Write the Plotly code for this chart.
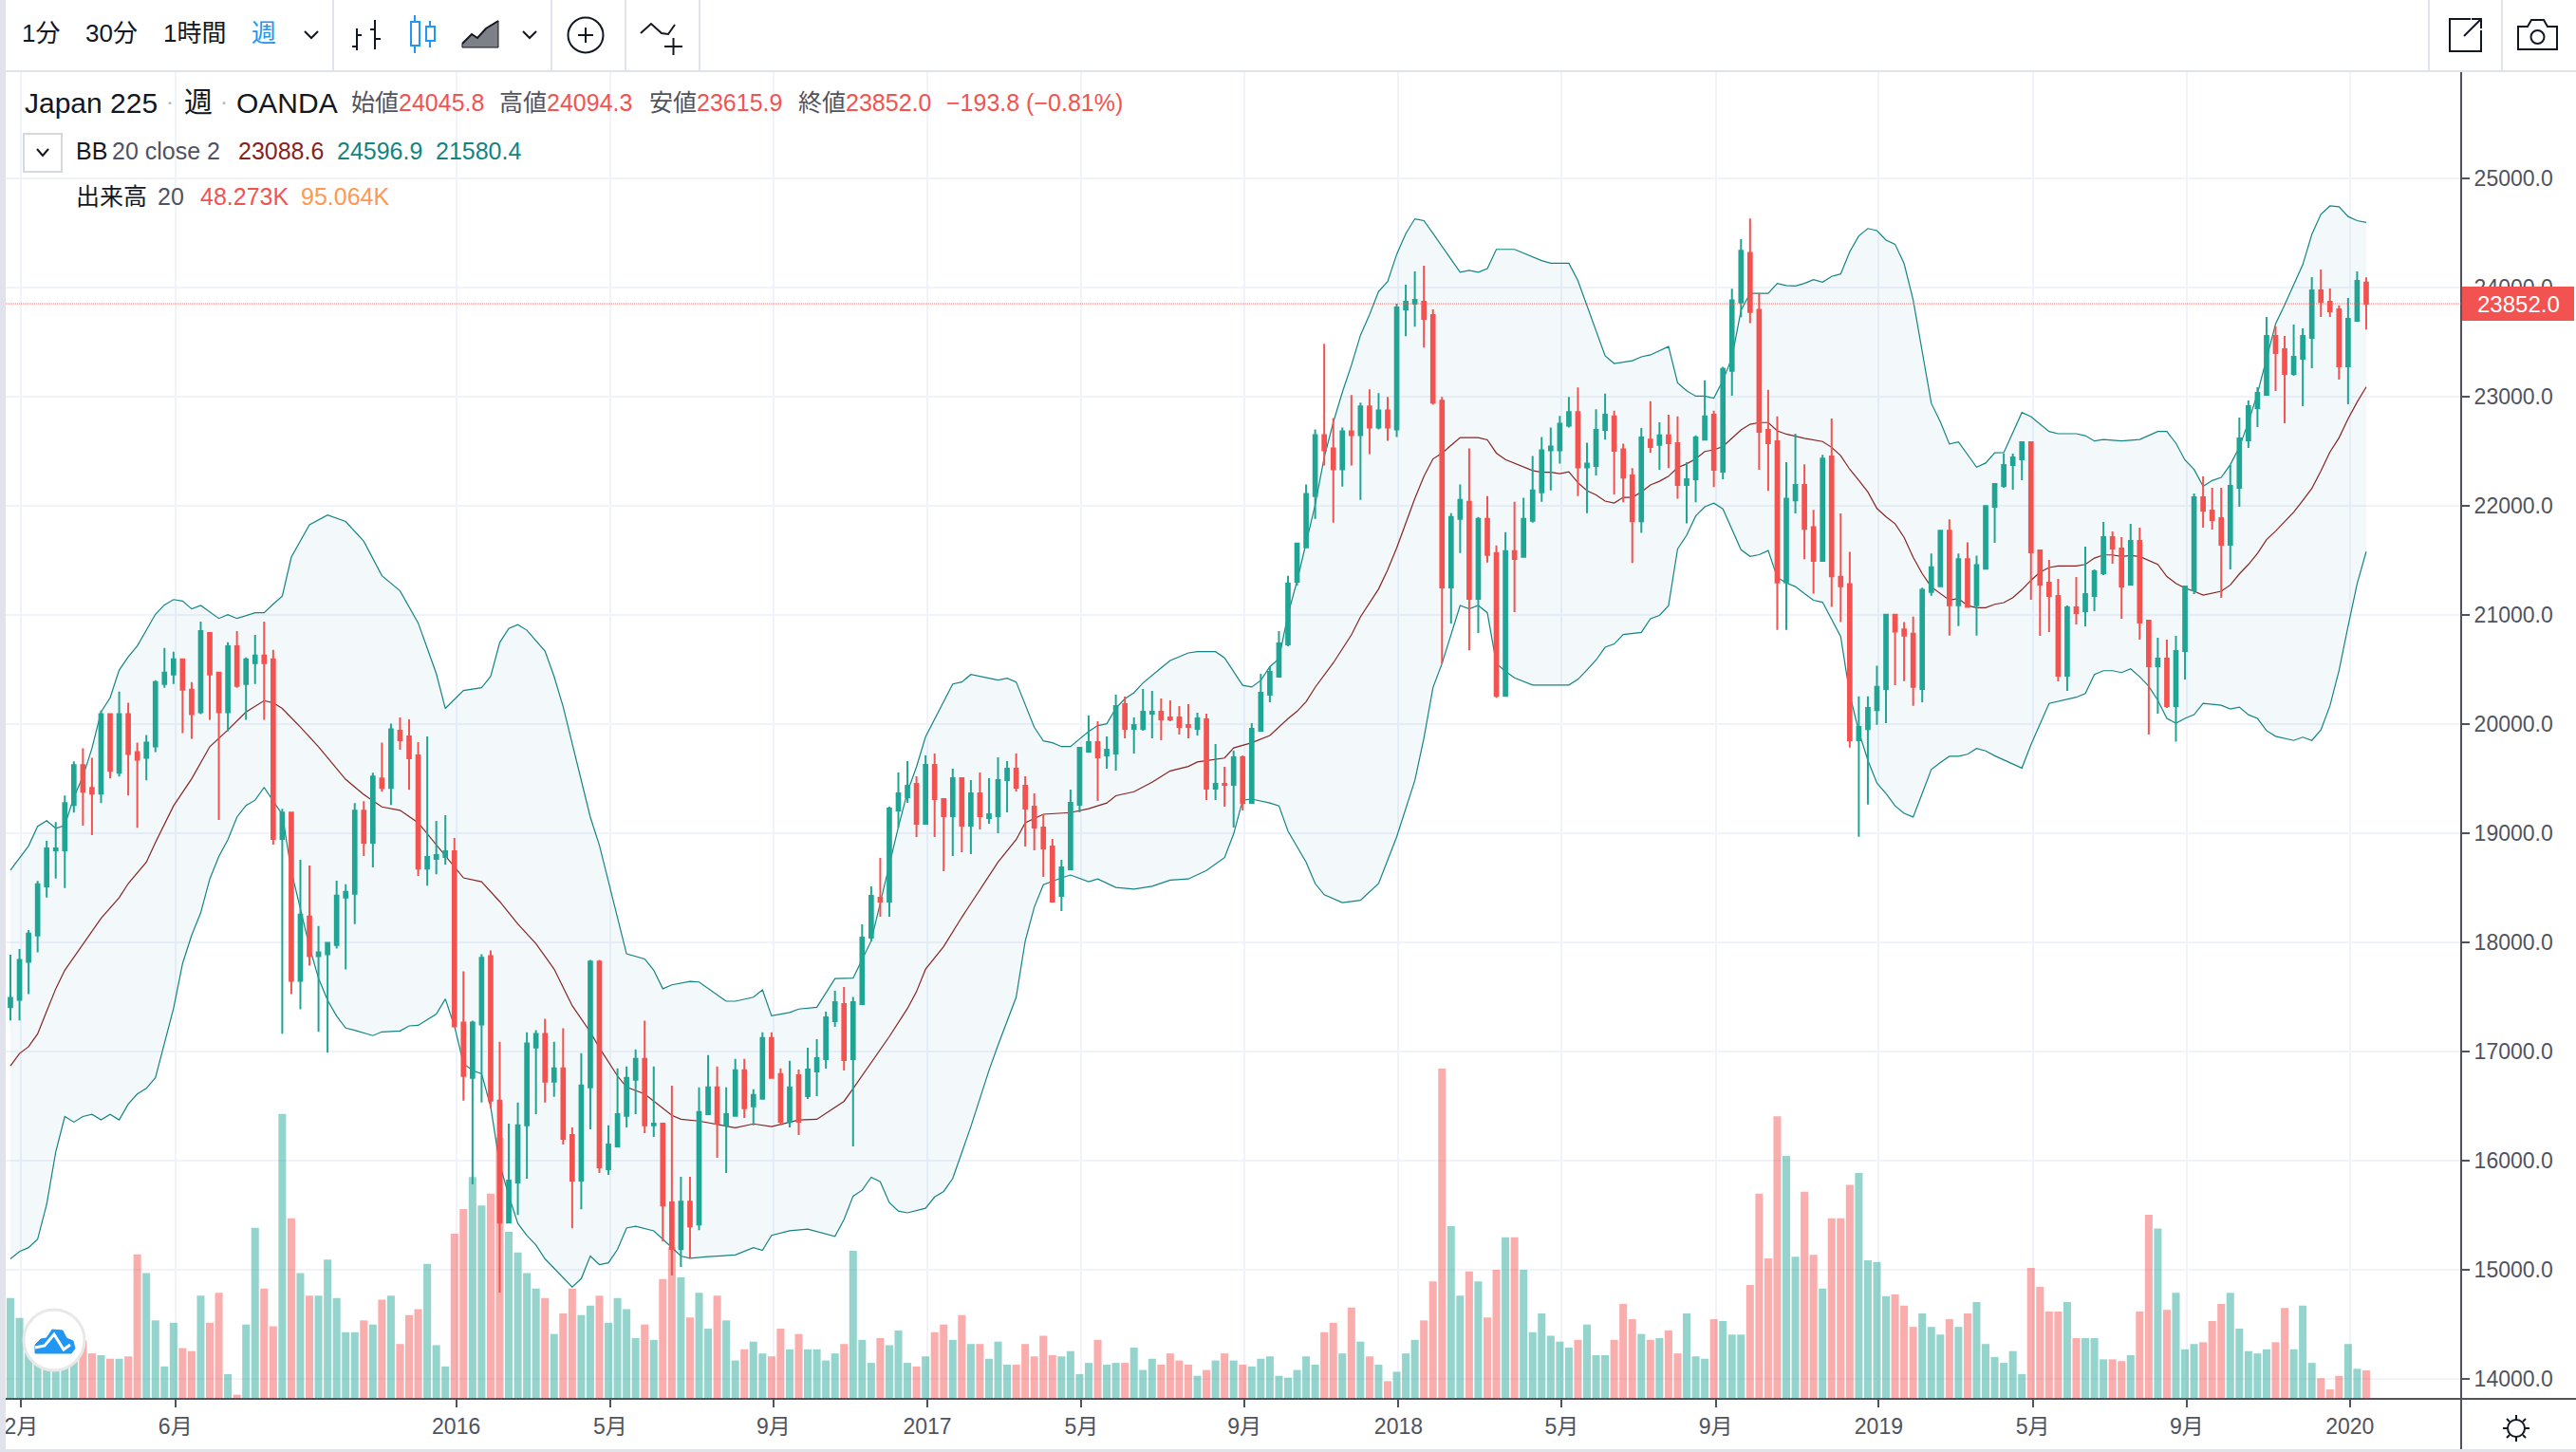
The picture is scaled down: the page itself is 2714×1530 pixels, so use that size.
import plotly.graph_objects as go

W, H = 2714, 1530
LEFT, RIGHT, TOP, BOTTOM = 6, 2593, 76, 1474

highs = [17888,17940,18113,18563,18930,19103,19346,19658,19779,19692,20125,20091,20298,20195,19831,19900,20402,20697,20662,20593,20385,20939,20835,20472,20749,20853,20610,20818,20939,20680,
19224,19190,18757,18705,18151,17995,18566,18532,19276,19294,19554,19831,20004,20061,20043,19835,19887,19113,19166,18956,
17735,17282,17892,17927,17090,16340,16532,17177,17195,17299,17090,17212,16305,16985,17840,17840,16323,16846,16863,17020,17282,16863,16340,16687,15852,15852,16671,16968,16863,16671,16933,16933,16654,17177,17177,16846,16916,
16835,17035,17113,17365,17556,17591,17500,18165,18513,18774,19243,19556,19661,19522,19713,19730,19313,19591,19504,19487,19556,19504,19696,19661,19730,19522,19365,19174,18948,18756,19400,19783,20078,20026,19887,20270,20252,20061,20322,20304,20235,20217,20165,20183,
20104,20096,19817,19609,19757,19713,20009,20461,20530,20852,21358,21654,22195,22701,23485,22805,22718,23015,22945,23067,23032,22997,23852,24026,24148,24201,23799,22997,21933,22195,22526,21898,22090,21637,21759,22038,22073,22456,22631,22718,22823,22997,23084,22578,
22884,23028,22872,22570,22346,22713,22959,22766,22835,22819,22399,22645,23149,22872,23273,23989,24443,24632,23951,23062,22819,22399,22660,22380,21964,22467,22800,21930,21578,20254,20254,20534,21003,21003,20935,20984,21249,21563,21771,21877,21563,21665,21544,21998,
22200,22478,22478,22582,22582,21591,21504,21330,21087,21347,21626,21417,21852,21765,21713,21834,21800,20947,20791,20773,20808,21260,22113,22269,22165,22165,22374,22808,22965,23087,23730,23643,23556,23661,23626,24096,24165,23991,23835,23904,24148,24094.3]

lows = [17284,17284,17527,17908,18410,18584,18497,19190,19069,18982,19276,19502,19519,19346,19051,19484,19744,20333,20368,19917,19865,20091,20039,19121,19935,20333,20039,20368,20039,18895,
17163,17527,17388,17787,17181,16991,17943,17752,18168,18791,18687,19380,19259,19765,19398,18608,18520,18625,18712,17230,
16549,15782,16532,16480,14791,15433,15503,15834,16427,16532,16584,16148,15381,15555,16288,15887,15869,16131,16305,16427,16253,16218,15259,14948,15026,15113,15363,16427,16026,15887,16410,16392,16323,16567,16759,16323,16305,
16235,16565,16591,16843,17226,16826,16130,17434,18008,18235,18235,19052,19278,18965,19087,18965,18652,18791,18826,18809,19035,19087,19000,19191,19383,18878,18843,18600,18374,18287,18669,19191,19748,19296,19591,19574,19870,19730,19939,19870,19852,20026,19904,19870,
19896,19304,19304,19243,19052,19209,19278,19939,20200,20435,20712,21270,21619,21881,22369,21846,22177,22369,22055,22474,22701,22596,22631,23555,23642,23451,22927,20555,20921,21567,20677,20834,21480,20241,20259,21026,21532,21846,22038,22142,22387,22718,22090,21933,
22278,22607,22104,22032,21476,21752,22486,22331,22346,22066,21839,22032,22607,22172,22244,23009,23728,23675,22331,22138,20863,20863,21930,21510,21196,21495,21075,20935,19785,18967,19262,19993,20008,20356,20394,20167,20201,21177,21264,20810,20897,21075,20810,21423,
21661,22165,22148,22235,21139,20808,20843,20391,20304,20913,20895,21034,21365,21469,20965,21278,20773,19904,20095,20147,19840,20408,21191,21800,21782,21156,21417,21991,22530,22722,23017,23052,22756,23191,22913,23261,23730,23730,23156,22930,23696,23615.9]

opens = [17406,17475,17821,18064,18514,18843,18843,19259,19623,19415,19363,20091,19554,20091,19744,19692,19796,20368,20454,20593,20316,20108,20835,20472,20108,20714,20368,20558,20628,20593,
18947,19190,17648,18237,17873,17891,17977,18410,18445,19207,18913,19502,19415,19939,19887,19713,18677,18765,18782,18834,
17265,16759,17247,17875,16549,15433,15799,16323,17038,17160,16724,16846,16235,15817,16671,17823,15921,16131,16410,16741,16933,16323,16340,15617,15189,15625,15416,16427,16671,16323,16410,16828,16497,16567,17125,16794,16357,
16783,16591,16817,16930,17278,17435,16930,17434,18043,18408,18374,19209,19330,19452,19087,19626,19313,19156,19504,19069,19365,19139,19156,19487,19591,19435,19243,19052,18878,18426,18669,19261,19748,19835,19713,19730,20183,19957,19957,20096,20113,20061,20061,19991,
19957,20043,19409,19452,19443,19696,19278,19939,20270,20435,20730,21305,21619,22090,22648,22526,22334,22683,22648,22910,22718,22875,22701,23799,23852,23869,23747,22962,21253,21881,22038,21148,21881,21567,20259,21584,21532,21863,22125,22509,22509,22735,22858,22352,
22365,22695,22819,22517,22278,21858,22607,22558,22645,22573,22191,22244,22607,22835,22312,23236,23864,24318,23796,22695,22592,21298,22051,22191,21805,21495,22452,21351,21283,19853,19955,20129,20322,21003,20867,20829,20322,21211,21264,21771,21090,21510,21090,21423,
21991,22182,22374,22426,22582,21591,21295,21173,20443,21069,21034,21173,21382,21713,21608,21278,21678,20947,20530,20599,20165,20669,21226,22078,21956,21887,21643,22165,22600,22895,23017,23556,23435,23209,23348,23539,23974,23870,23800,23278,23696,24045.8]

closes = [17492,17839,18081,18532,18861,18861,19276,19623,19380,19363,20091,19571,20091,19727,19675,19831,20385,20472,20593,20316,20091,20853,20454,20108,20714,20350,20593,20628,20558,18947,
19190,17648,18254,17873,17908,17995,18428,18462,19207,18913,19519,19415,19952,19852,19687,18677,18782,18799,18834,17230,
16776,17265,17858,16549,15433,15817,16323,17073,17160,16724,16846,16201,15817,16689,17823,15939,16148,16427,16759,16933,16323,16340,15590,15191,15625,15398,16445,16671,16340,16427,16828,16480,16602,17125,16759,16357,16671,
16357,16835,16939,17313,17452,16922,17452,18043,18426,18374,19226,19365,19435,19087,19626,19313,19156,19504,19069,19365,19156,19174,19487,19591,19417,19226,19052,18861,18374,18687,19278,19783,19835,19696,19765,20165,19957,19991,20113,20113,20043,20043,19974,19974,
20052,19409,19452,19443,19696,19278,19957,20287,20478,20739,21287,21654,22108,22648,22509,22334,22683,22648,22910,22718,22875,22718,23817,23869,23887,23712,22945,21253,21898,22055,21148,21881,21549,20259,21584,21514,21881,22142,22509,22544,22753,22858,22352,22387,
22695,22835,22505,22259,21858,22626,22539,22645,22573,22191,22244,22626,22819,22331,23255,23883,24337,23777,22679,22573,21298,22066,22191,21790,21495,22433,21355,21264,19853,19974,20148,20341,21003,20848,20810,20341,21230,21438,21771,21090,21510,21075,21457,21998,
22200,22374,22443,22582,21574,21278,21173,20443,21069,21017,21191,21400,21713,21608,21260,21678,20930,20530,20599,20165,20669,21260,22078,21956,21869,21643,22182,22617,22913,23035,23556,23400,23209,23365,23556,23974,23870,23783,23278,23713,24061,23852.0]

volumes = [171,137,99,71,61,61,71,75,99,77,74,68,68,72,245,213,133,55,129,86,81,175,129,180,42,7,126,290,187,123,483,306,213,175,175,236,171,113,113,133,126,168,175,93,142,152,229,91,55,280,
322,376,328,348,443,283,248,213,187,171,110,145,187,142,158,175,129,171,152,103,126,100,203,257,206,138,180,119,175,133,65,84,97,77,72,119,84,110,84,84,65,77,93,251,
100,61,103,91,116,61,55,72,113,126,100,142,93,93,68,97,58,58,93,72,107,74,72,81,42,61,100,58,61,61,87,49,68,58,77,65,58,39,49,65,77,65,58,55,68,72,39,36,49,72,58,113,129,77,155,97,72,58,30,46,77,100,133,199,560,293,175,216,199,138,219,274,274,219,113,145,107,97,87,100,126,74,74,100,161,135,110,100,103,116,77,145,72,68,
135,132,109,109,193,348,238,479,412,241,351,244,187,306,306,363,383,235,232,174,177,158,122,145,122,109,135,122,145,164,93,71,61,81,42,222,190,148,148,164,103,103,103,67,67,64,74,148,312,289,151,180,84,93,96,132,161,180,119,81,77,84,96,154,84,158,61,35,16,39,93,51,48.273]

bb_upper = [(0,18662),(2,18884),(3,19063),(4,19115),(5,19046),(6,19072),(7,19331),(8,19519),(9,19779),(10,20111),(11,20241),(12,20495),(13,20616),(14,20717),(15,20861),(16,21006),(17,21092),(18,21141),(19,21127),(20,21055),(21,21087),(23,20968),(24,21003),(25,20968),(27,21020),(28,21020),(29,21100),(30,21173),(31,21530),(33,21826),(35,21916),(37,21856),(39,21675),(41,21360),(43,21221),(45,20927),(46,20695),(47,20463),(48,20143),(50,20308),(52,20334),(53,20437),(54,20747),(55,20876),(56,20912),(57,20860),(59,20669),(60,20437),(61,20160),(64,19148),(65,18890),(68,17895),(70,17848),(71,17745),(72,17575),(73,17611),(75,17642),(76,17637),(79,17461),(80,17461),(82,17498),(83,17565),(84,17327),(86,17358),(87,17389),(89,17405),(91,17668),(93,17672),(95,18014),(97,18710),(98,19058),(99,19377),(100,19609),(101,19884),(102,20043),(104,20368),(105,20386),(106,20455),(109,20403),(110,20420),(111,20386),(113,19971),(114,19846),(115,19829),(116,19794),(117,19794),(118,19864),(119,19933),(120,19986),(121,20003),(122,20145),(123,20232),(124,20287),(125,20377),(127,20515),(128,20583),(130,20652),(131,20664),(133,20664),(134,20607),(136,20355),(137,20340),(138,20401),(139,20526),(140,20599),(141,21006),(142,21311),(143,21660),(144,22009),(145,22445),(146,22765),(147,23041),(148,23288),(149,23564),(150,23753),(151,23965),(152,24055),(153,24305),(154,24494),(155,24630),(156,24613),(157,24496),(159,24263),(160,24140),(161,24157),(162,24140),(163,24174),(164,24350),(166,24350),(169,24247),(170,24223),(172,24223),(173,24063),(174,23830),(175,23600),(176,23374),(177,23304),(179,23330),(180,23365),(181,23383),(183,23459),(184,23126),(185,23054),(186,23005),(187,23005),(188,22986),(189,23149),(190,23357),(191,23792),(192,23947),(194,23947),(195,24038),(196,24019),(197,24015),(198,24038),(199,24072),(200,24049),(201,24102),(202,24125),(203,24329),(204,24473),(205,24541),(206,24522),(207,24435),(208,24397),(209,24219),(210,23886),(211,23413),(212,22940),(213,22770),(214,22566),(215,22585),(216,22467),(217,22354),(218,22392),(219,22486),(220,22487),(222,22855),(223,22817),(225,22681),(226,22661),(228,22661),(229,22643),(230,22594),(231,22608),(233,22594),(235,22608),(237,22681),(238,22681),(239,22574),(240,22420),(241,22333),(242,22179),(243,22232),(244,22261),(245,22377),(246,22536),(247,22768),(248,23029),(249,23348),(250,23667),(251,23841),(253,24210),(254,24488),(255,24671),(256,24748),(257,24741),(258,24651),(259,24613),(260,24596.9)]

bb_basis = [(0,16869),(1,16982),(2,17044),(3,17162),(4,17369),(5,17575),(6,17745),(8,17988),(10,18220),(12,18410),(13,18539),(15,18735),(16,18916),(18,19251),(19,19380),(20,19499),(22,19793),(23,19870),(24,19947),(26,20112),(28,20215),(29,20195),(30,20143),(32,19973),(34,19793),(37,19493),(39,19354),(41,19241),(43,19210),(45,19096),(47,18890),(50,18591),(52,18555),(54,18374),(56,18168),(58,17988),(60,17756),(62,17420),(64,17178),(65,17034),(67,16776),(68,16673),(70,16611),(73,16415),(74,16379),(76,16363),(80,16301),(82,16337),(84,16312),(87,16373),(89,16379),(92,16544),(93,16660),(97,17137),(99,17394),(100,17549),(101,17755),(103,17962),(105,18230),(107,18477),(109,18735),(111,18942),(112,19096),(114,19174),(117,19189),(119,19225),(121,19277),(122,19344),(124,19380),(126,19468),(128,19571),(130,19612),(131,19653),(134,19689),(135,19782),(137,19829),(139,19896),(141,20050),(142,20117),(143,20206),(144,20337),(146,20561),(148,20817),(149,20983),(151,21238),(152,21413),(153,21616),(155,22067),(156,22270),(157,22430),(158,22483),(160,22625),(162,22625),(163,22605),(164,22483),(165,22424),(168,22323),(169,22308),(170,22308),(171,22294),(172,22311),(173,22212),(174,22139),(175,22100),(176,22043),(177,22025),(178,22078),(179,22078),(180,22127),(181,22191),(182,22225),(183,22271),(184,22350),(185,22384),(186,22430),(187,22498),(188,22513),(189,22543),(190,22619),(191,22695),(192,22747),(193,22763),(194,22763),(195,22687),(196,22657),(198,22619),(200,22589),(201,22536),(202,22460),(203,22335),(204,22233),(205,22127),(206,21976),(207,21900),(208,21836),(209,21711),(210,21529),(211,21378),(212,21257),(213,21200),(214,21136),(215,21151),(216,21086),(217,21067),(218,21067),(219,21098),(220,21113),(221,21159),(222,21232),(223,21318),(224,21391),(225,21435),(226,21449),(228,21449),(229,21463),(230,21521),(231,21550),(232,21550),(233,21536),(234,21544),(235,21536),(237,21463),(238,21352),(239,21289),(240,21246),(241,21217),(242,21182),(244,21217),(245,21275),(246,21376),(247,21463),(248,21565),(249,21690),(250,21768),(251,21855),(252,21942),(253,22049),(254,22159),(255,22319),(256,22493),(257,22623),(258,22797),(259,22951),(260,23088.6)]

bb_lower = [(0,15100),(1,15167),(2,15203),(3,15280),(4,15600),(5,16079),(6,16404),(7,16353),(8,16404),(9,16425),(10,16373),(11,16425),(12,16373),(13,16518),(14,16611),(15,16662),(16,16760),(17,17085),(18,17395),(19,17807),(20,18065),(21,18271),(22,18581),(23,18787),(24,18942),(25,19148),(26,19255),(27,19303),(28,19420),(29,19295),(30,19173),(31,18653),(32,18306),(33,17960),(34,17671),(35,17469),(36,17325),(37,17215),(38,17195),(40,17146),(41,17180),(43,17188),(44,17235),(45,17240),(47,17343),(48,17482),(49,17233),(50,16890),(51,16826),(52,16797),(53,16492),(54,15968),(55,15677),(56,15425),(57,15314),(58,15227),(59,15100),(62,14842),(63,14919),(64,15126),(65,15048),(66,15064),(67,15187),(68,15383),(69,15399),(71,15357),(72,15280),(74,15126),(75,15105),(77,15120),(80,15136),(82,15203),(83,15177),(84,15316),(86,15357),(88,15373),(91,15306),(92,15461),(93,15675),(94,15729),(95,15848),(96,15806),(97,15615),(98,15538),(99,15522),(101,15564),(102,15667),(103,15718),(104,15837),(105,16079),(106,16312),(108,16827),(109,17059),(111,17498),(112,18013),(113,18323),(114,18529),(116,18591),(117,18617),(119,18555),(120,18581),(122,18503),(124,18488),(126,18514),(128,18570),(130,18581),(132,18658),(134,18777),(135,18993),(136,19303),(137,19313),(139,19277),(140,19251),(141,19019),(143,18735),(144,18539),(145,18436),(147,18364),(149,18385),(151,18539),(153,18967),(155,19483),(156,19870),(157,20334),(158,20555),(160,21087),(161,21055),(162,21087),(163,21020),(164,20555),(165,20483),(166,20424),(168,20358),(172,20358),(173,20410),(174,20497),(175,20587),(176,20704),(177,20734),(178,20821),(180,20840),(181,20965),(182,20996),(183,21086),(184,21605),(185,21730),(186,21907),(187,21991),(188,22025),(189,21972),(190,21786),(191,21597),(192,21537),(193,21552),(194,21590),(195,21344),(196,21294),(197,21260),(198,21196),(199,21135),(200,21117),(201,20954),(202,20803),(203,20273),(204,19932),(205,19667),(206,19459),(207,19365),(208,19251),(209,19183),(210,19149),(211,19365),(212,19584),(213,19648),(214,19705),(215,19705),(216,19724),(217,19777),(218,19754),(219,19710),(222,19597),(223,19811),(225,20190),(228,20246),(229,20281),(230,20454),(231,20489),(232,20489),(233,20472),(234,20507),(235,20434),(236,20347),(237,20217),(238,20052),(239,20008),(240,20052),(241,20086),(242,20190),(244,20173),(245,20139),(246,20156),(247,20086),(248,20052),(249,19940),(250,19888),(252,19850),(253,19880),(254,19850),(255,19946),(256,20168),(257,20490),(258,20897),(259,21286),(260,21580.4)]

tick_pos = [1.2,18.2,49.2,66.2,84.2,101.2,118.2,136.2,153.2,171.2,188.2,206.2,223.2,240.2,258.2]
tick_text = ["2月","6月","2016","5月","9月","2017","5月","9月","2018","5月","9月","2019","5月","9月","2020"]
price_ticks = [14000,15000,16000,17000,18000,19000,20000,21000,22000,23000,24000,25000]
last_close = 23852.0

assert len(highs)==len(lows)==len(opens)==len(closes)==len(volumes)==261, (len(highs),len(lows),len(opens),len(closes),len(volumes))

UP, DOWN = "#20a595", "#f35350"
TEXT, MUTED = "#131722", "#50535e"
BAND, BASIS = "#138484", "#872323"
FONT = "Liberation Sans, Noto Sans CJK JP, sans-serif"
xs = list(range(len(opens)))
X0 = 11.0
STEP = 9.546
x_range = [(LEFT - X0) / STEP, (RIGHT - X0) / STEP]
P_PER_PX = 1000 / 115.0
price_range = [14000 - (BOTTOM - 1453) * P_PER_PX, 14000 + (1453 - TOP) * P_PER_PX]
vol_range = [0, (BOTTOM - TOP) * 1.609]

def fx(px): return px / W
def fy(py): return 1 - py / H
def path(pts, close=False):
    s = "M " + " L ".join(f"{fx(a):.6f},{fy(b):.6f}" for a, b in pts)
    return s + (" Z" if close else "")

fig = go.Figure()
fig.add_trace(go.Bar(x=xs, y=volumes, yaxis="y", width=0.84,
    marker=dict(color=[UP if c >= o else DOWN for o, c in zip(opens, closes)], line_width=0), opacity=0.47))
fig.add_trace(go.Scatter(x=[a for a,_ in bb_upper], y=[b for _,b in bb_upper], yaxis="y2", mode="lines",
    line=dict(color=BAND, width=1.2)))
fig.add_trace(go.Scatter(x=[a for a,_ in bb_lower], y=[b for _,b in bb_lower], yaxis="y2", mode="lines",
    line=dict(color=BAND, width=1.2), fill="tonexty", fillcolor="rgba(25,133,153,0.05)"))
fig.add_trace(go.Scatter(x=[a for a,_ in bb_basis], y=[b for _,b in bb_basis], yaxis="y2", mode="lines",
    line=dict(color=BASIS, width=1.2)))
fig.add_trace(go.Candlestick(x=xs, open=opens, high=highs, low=lows, close=closes, yaxis="y3",
    whiskerwidth=0,
    increasing=dict(line=dict(color=UP, width=2), fillcolor=UP),
    decreasing=dict(line=dict(color=DOWN, width=2), fillcolor=DOWN)))

shapes, ann = [], []
def line(pts, color=TEXT, width=2, layer="above", fill=None, close=False):
    d = dict(type="path", path=path(pts, close), xref="paper", yref="paper", layer=layer,
             line=dict(color=color, width=width))
    if fill: d["fillcolor"] = fill
    shapes.append(d)
def rect(x0, y0, x1, y1, fill, lc=None, lw=0, layer="above"):
    shapes.append(dict(type="rect", xref="paper", yref="paper", x0=fx(x0), x1=fx(x1), y0=fy(y0), y1=fy(y1),
                       fillcolor=fill, layer=layer, line=dict(color=lc or fill, width=lw)))
def circle(cx, cy, r, lc, lw, fill="rgba(0,0,0,0)"):
    shapes.append(dict(type="circle", xref="paper", yref="paper", x0=fx(cx-r), x1=fx(cx+r), y0=fy(cy+r), y1=fy(cy-r),
                       fillcolor=fill, layer="above", line=dict(color=lc, width=lw)))
def text(x, y, s, color=TEXT, size=25, anchor="left"):
    ann.append(dict(x=fx(x), y=fy(y), xref="paper", yref="paper", text=s, showarrow=False, xanchor=anchor, yanchor="middle",
                    font=dict(family=FONT, size=size, color=color), xshift=0, yshift=0, borderpad=0, borderwidth=0))
def chevron(cx, cy, color=TEXT, s=7):
    line([(cx-s, cy-3), (cx, cy+4), (cx+s, cy-3)], color=color)

# frame and panes
rect(0, 0, 6, H, "#e0e3eb")
rect(0, 74, W, 76, "#e0e3eb", lw=0)
rect(0, 1527, W, H, "#e0e3eb")
for dx in (350, 580, 658, 736, 2558, 2635):
    rect(dx, 0, dx + 2, 74, "#e0e3eb")
rect(RIGHT - 1, TOP, RIGHT + 1, 1527, MUTED)
rect(LEFT, BOTTOM - 1, W, BOTTOM + 1, MUTED)

# toolbar text and icons
text(23, 35, "1分", size=26)
text(90, 35, "30分", size=26)
text(172, 35, "1時間", size=26)
text(265, 35, "週", color="#2196f3", size=26)
chevron(328, 36)
line([(376, 30), (376, 53)]); line([(371, 49), (376, 49)]); line([(376, 37), (381, 37)])
line([(395, 21), (395, 52)]); line([(390, 31), (395, 31)]); line([(395, 41), (401, 41)])
line([(437, 16), (437, 56)], "#2196f3"); rect(433, 23, 442, 48, "white", "#2196f3", 2)
line([(453, 22), (453, 50)], "#2196f3"); rect(449, 28, 458, 43, "white", "#2196f3", 2)
line([(487, 50), (487, 46), (497, 36), (503, 40), (512, 30), (525, 22), (525, 50)], TEXT, 1, fill="rgba(19,23,34,0.55)", close=True)
line([(487, 46), (497, 36), (503, 40), (512, 30), (525, 22)], TEXT, 2)
chevron(558, 36)
circle(617, 37, 18.5, TEXT, 2)
line([(609, 37), (625, 37)]); line([(617, 29), (617, 45)])
line([(675, 35), (686, 25), (697, 35), (704, 36), (711, 26)])
line([(700, 49), (719, 49)]); line([(709.5, 40), (709.5, 58)])
# share icon
line([(2603, 20), (2581, 20), (2581, 54), (2614, 54), (2614, 32)])
line([(2596, 38), (2614, 20)]); line([(2604, 20), (2614, 20), (2614, 30)])
# camera icon
line([(2653, 28), (2663, 28), (2667, 21), (2680, 21), (2684, 28), (2694, 28), (2694, 52), (2653, 52)], close=True)
circle(2673.5, 39, 7, TEXT, 2)

# legend rows
text(26, 109, "Japan 225", size=30)
text(175, 107, "·", color="#b2b5be", size=24)
text(194, 108, "週", size=30)
text(232, 107, "·", color="#b2b5be", size=24)
text(249, 109, "OANDA", size=30)
for xpos, lab, val in [(370, "始値", "24045.8"), (526, "高値", "24094.3"), (684, "安値", "23615.9"), (841, "終値", "23852.0")]:
    text(xpos, 108, f'<span style="color:{MUTED}">{lab}</span>{val}', color=DOWN, size=25)
text(997, 108, "−193.8 (−0.81%)", color=DOWN, size=25)
rect(25, 141, 65, 181, "white", "#d6d8e0", 2)
chevron(45, 160, s=6)
text(80, 159, "BB", size=25)
text(118, 159, "20 close 2", color=MUTED, size=25)
text(251, 159, "23088.6", color=BASIS, size=25)
text(355, 159, "24596.9", color="#138484", size=25)
text(459, 159, "21580.4", color="#138484", size=25)
text(80, 207, "出来高", size=25)
text(166, 207, "20", color=MUTED, size=25)
text(211, 207, "48.273K", color=DOWN, size=25)
text(317, 207, "95.064K", color="#ff9850", size=25)

# last price line and label
shapes.append(dict(type="line", xref="paper", yref="y3", x0=fx(LEFT), x1=fx(RIGHT), y0=last_close, y1=last_close,
                   layer="above", line=dict(color="rgba(243,83,80,0.55)", width=1.5, dash="1px,1px")))
rect(RIGHT + 1, 302, W - 2, 338, DOWN)
text(2653, 320, "23852.0", color="white", size=24, anchor="center")

# logo
circle(57, 1412, 32, "#e8e8e8", 3, "white")
line([(37, 1426), (37, 1417), (43, 1411), (49, 1410), (55, 1401), (66, 1402), (70, 1410), (77, 1413), (79, 1421), (75, 1426)],
     "#2196f3", 1, fill="#2196f3", close=True)
line([(37, 1420), (47, 1418), (57, 1406), (67, 1422), (74, 1417)], "white", 3)

# settings gear
circle(2651, 1505, 9, TEXT, 2)
for a, b, c, d in [(2651, 1491, 2651, 1496), (2651, 1514, 2651, 1519), (2637, 1505, 2642, 1505), (2660, 1505, 2665, 1505),
                   (2641, 1495, 2644, 1498), (2658, 1512, 2661, 1515), (2641, 1515, 2644, 1512), (2658, 1498, 2661, 1495)]:
    line([(a, b), (c, d)], TEXT, 2)

dom_y = [1 - BOTTOM / H, 1 - TOP / H]
fig.update_layout(
    width=W, height=H, margin=dict(l=0, r=0, t=0, b=0), autosize=False,
    paper_bgcolor="white", plot_bgcolor="white", showlegend=False, hovermode=False,
    barmode="overlay", boxgap=0.45,
    font=dict(family=FONT, color=MUTED, size=23),
    shapes=shapes, annotations=ann,
    xaxis=dict(domain=[LEFT / W, RIGHT / W], range=x_range, type="linear", rangeslider=dict(visible=False),
               tickmode="array", tickvals=tick_pos, ticktext=tick_text, ticks="outside", ticklen=8, tickwidth=2, tickcolor=MUTED,
               showgrid=True, gridcolor="#f0f3fa", gridwidth=2, zeroline=False, showline=False,
               tickfont=dict(family=FONT, size=23, color=MUTED)),
    yaxis=dict(domain=dom_y, range=vol_range, visible=False, showgrid=False, zeroline=False),
    yaxis2=dict(domain=dom_y, range=price_range, overlaying="y", visible=False, showgrid=False, zeroline=False),
    yaxis3=dict(domain=dom_y, range=price_range, overlaying="y", side="right", anchor="x",
                tickmode="array", tickvals=price_ticks, ticktext=[f"{t}.0" for t in price_ticks],
                ticks="outside", ticklen=8, tickwidth=2, tickcolor=MUTED,
                showgrid=True, gridcolor="#f0f3fa", gridwidth=2, zeroline=False, showline=False,
                tickfont=dict(family=FONT, size=23, color=MUTED)),
)

fig.write_html("out.html", config=dict(displayModeBar=False),
               post_script="document.body.style.margin='0';document.body.style.overflow='hidden';")
